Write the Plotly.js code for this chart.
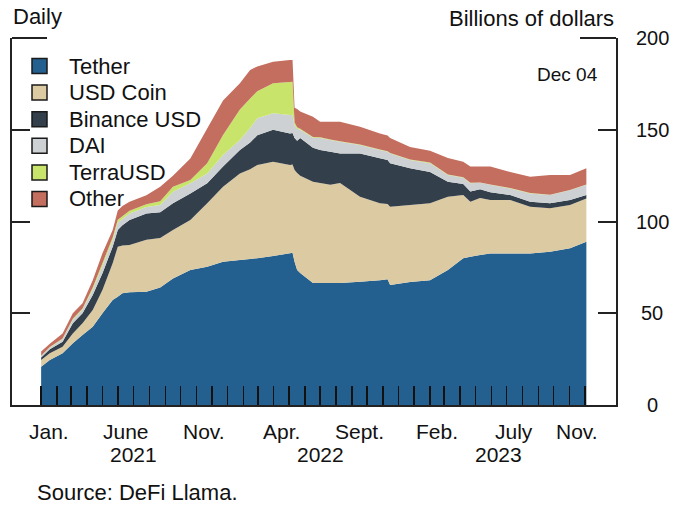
<!DOCTYPE html>
<html><head><meta charset="utf-8">
<script src="https://cdn.plot.ly/plotly-3.0.1.min.js"></script>
<style>html,body{margin:0;padding:0;background:#fff}#chart{width:675px;height:506px}</style>
</head><body><div id="chart"></div>
<script>
const dates = ['2021-01-01','2021-01-18','2021-02-12','2021-03-04','2021-03-23','2021-04-12','2021-05-01','2021-05-21','2021-05-31','2021-06-09','2021-06-23','2021-07-26','2021-08-22','2021-09-16','2021-10-20','2021-11-22','2021-12-23','2022-01-25','2022-02-14','2022-02-28','2022-03-31','2022-05-03','2022-05-08','2022-05-12','2022-05-17','2022-05-23','2022-06-17','2022-07-01','2022-07-21','2022-08-09','2022-09-17','2022-10-26','2022-11-10','2022-11-15','2022-12-24','2023-02-01','2023-03-08','2023-04-07','2023-04-21','2023-05-10','2023-05-30','2023-07-08','2023-08-16','2023-09-24','2023-11-02','2023-12-04'];
const tether     = [20.9,24.5,28.2,33.6,38.1,42.7,50,57.2,59,60.9,61.5,61.7,64,69,73.6,75.4,78,79,79.5,80,81.2,82.7,83,78,73.6,72,66.5,66.5,66.5,66.5,67.2,68,68.5,65.4,67,68,73.6,80,80.8,81.7,82.6,82.6,82.6,83.5,85.4,89];
const usdCoin    = [3.6,3.7,3.6,5.4,6.4,9.1,12.7,20,27.3,26,25.7,28.3,27,26.4,27.2,34.6,41,47.2,49,50.8,51.4,48.1,48,50,52.8,53,55.2,54.5,53.5,54.5,46.3,42,41,42.6,42,42,39.9,34.4,30,31.1,29.1,29.1,25.4,23.7,23.6,23.6];
const binanceUsd = [1.4,2.2,2.7,5.5,5.5,8.2,9.1,9.1,9.1,11,13.6,14.4,14,14.6,14.5,10.8,11,12.8,14.5,16.2,17.4,17.2,17.2,17.5,17.6,20.5,18.5,18,18,16,23.5,24.5,24,23.8,20,17,8.2,6,5.5,4.8,4.3,2.7,2.8,2.8,2.7,1.8];
const dai        = [0.8,1.0,1.5,2,2,3,4,3.5,4,3.5,3.5,3.5,4,6.2,5.5,5.4,6.2,5.4,8,9.2,9,10,10,7,6.5,4.5,5.5,6.5,6.4,6.5,4.7,4.5,4.5,5.2,4.5,4.8,3.6,3.5,4.6,3.5,4,3.6,4.5,4.4,5.3,5.6];
const terraUsd   = [0.2,0.2,0.3,0.5,0.6,1,1.5,1.5,1.5,1.5,1.5,1.5,2,2.8,1.8,5.5,11,16.6,16,14.8,16.3,18,18,1.5,0.8,0.5,0.4,0.4,0.3,0.3,0.3,0.3,0.3,0.3,0.3,0.3,0.3,0.2,0.2,0.2,0.2,0.2,0.2,0.2,0.2,0.2];
const other      = [2.3,1.8,2.7,3,2.8,4,5.4,4.1,5.1,5.5,5,4.9,8,6,11.8,19,18.8,14.3,15.6,13.5,11.7,12,11.8,8,10,9.5,11,8.5,9.7,10.6,9.7,8.7,8.5,8.2,6.8,6.5,9,8.5,8.9,8.7,9.8,8.8,8.9,10.7,8.1,8.8];

const seriesNames = ['Tether','USD Coin','Binance USD','DAI','TerraUSD','Other'];
const seriesColors = ['#23608f','#dccaa3','#333f4a','#cdd1d3','#c8e46b','#c46e5f'];
const monthLabels = ['Jan.','June','Nov.','Apr.','Sept.','Feb.','July','Nov.'];
const monthLabelDates = ['2021-01-16','2021-06-17','2021-11-16','2022-04-16','2022-09-16','2023-02-15','2023-07-16','2023-11-16'];
const yearLabels = ['2021','2022','2023'];
const yearLabelDates = ['2021-06-30','2022-07-01','2023-06-15'];
const yTickVals = [0,50,100,150,200];
const yTickText = ['0','50','100','150','200'];

const FONT = 'Liberation Sans, Arial, Helvetica, sans-serif';
const INK = '#111';
const PW = 604, PH = 367; // plot area size in px

const values = [tether, usdCoin, binanceUsd, dai, terraUsd, other];
const traces = values.map((v, i) => ({
  type: 'scatter', mode: 'none', x: dates, y: v, stackgroup: 'one',
  fillcolor: seriesColors[i], line: {width: 0}, name: seriesNames[i],
  showlegend: false, hoverinfo: 'skip'
}));

// monthly tick positions Jan 2021 .. Dec 2023
const monthTicks = [];
for (let y = 2021; y <= 2023; y++) {
  for (let m = 1; m <= 12; m++) monthTicks.push(y + '-' + String(m).padStart(2, '0') + '-01');
}

const annotations = [];
const shapes = [
  {type: 'line', xref: 'paper', yref: 'paper', x0: 0, x1: 35/PW, y0: 1, y1: 1, line: {color: '#222', width: 2}},
  {type: 'line', xref: 'paper', yref: 'paper', x0: 1 - 36/PW, x1: 1, y0: 1, y1: 1, line: {color: '#222', width: 2}}
];

// legend (keys + labels)
seriesNames.forEach((n, i) => {
  const cy = 1 - (28 + i * 26.6) / PH;
  const half = 7.5;
  shapes.push({type: 'rect', xref: 'paper', yref: 'paper',
    x0: (32 - 12) / PW, x1: (47 - 12) / PW, y0: cy - half / PH, y1: cy + half / PH,
    fillcolor: seriesColors[i], line: {color: '#1a1a1a', width: 1.5}});
  annotations.push({text: n, x: (67 - 12) / PW, xref: 'paper', xanchor: 'left', y: cy, yref: 'paper',
    yanchor: 'middle', showarrow: false, font: {family: FONT, size: 22, color: INK}});
});

monthLabels.forEach((t, i) => annotations.push({
  text: t, x: monthLabelDates[i], xref: 'x', y: 0, yref: 'paper', yanchor: 'top', xanchor: 'center',
  yshift: -13, showarrow: false, font: {family: FONT, size: 21, color: INK}
}));
yearLabels.forEach((t, i) => annotations.push({
  text: t, x: yearLabelDates[i], xref: 'x', y: 0, yref: 'paper', yanchor: 'top', xanchor: 'center',
  yshift: -36, showarrow: false, font: {family: FONT, size: 21, color: INK}
}));
yTickVals.forEach((v, i) => annotations.push({
  text: yTickText[i], x: 1, xref: 'paper', xshift: 36, xanchor: 'center', y: v, yref: 'y', yanchor: 'middle',
  showarrow: false, font: {family: FONT, size: 20, color: INK}
}));
annotations.push({text: 'Daily', x: 0, xref: 'paper', xanchor: 'left', xshift: -1, y: 1, yref: 'paper',
  yanchor: 'middle', yshift: 22, showarrow: false, font: {family: FONT, size: 22, color: INK}});
annotations.push({text: 'Billions of dollars', x: 1, xref: 'paper', xanchor: 'right', xshift: 0, y: 1, yref: 'paper',
  yanchor: 'middle', yshift: 20, showarrow: false, font: {family: FONT, size: 22, color: INK}});
annotations.push({text: 'Dec 04', x: 1, xref: 'paper', xanchor: 'right', xshift: -16, y: 1, yref: 'paper',
  yanchor: 'middle', yshift: -36, showarrow: false, font: {family: FONT, size: 19, color: INK}});
annotations.push({text: 'Source: DeFi Llama.', x: 0, xref: 'paper', xanchor: 'left', xshift: 23, y: 0, yref: 'paper',
  yanchor: 'middle', yshift: -87, showarrow: false, font: {family: FONT, size: 22, color: INK}});

const layout = {
  width: 675, height: 506,
  margin: {l: 12, r: 59, t: 38, b: 101},
  paper_bgcolor: '#fff', plot_bgcolor: '#fff',
  showlegend: false,
  xaxis: {type: 'date', range: ['2020-11-05', '2024-01-31'], showgrid: false, zeroline: false,
    showline: true, linecolor: '#222', linewidth: 2,
    tickmode: 'array', tickvals: monthTicks, ticks: 'inside', ticklen: 19, tickwidth: 1.6, tickcolor: '#111',
    showticklabels: false, fixedrange: true},
  yaxis: {range: [0, 200], side: 'right', showgrid: false, zeroline: false,
    showline: true, linecolor: '#222', linewidth: 2, mirror: 'ticks',
    tickmode: 'array', tickvals: yTickVals, ticks: 'inside', ticklen: 18, tickwidth: 2, tickcolor: '#222',
    showticklabels: false, fixedrange: true},
  shapes: shapes,
  annotations: annotations
};

Plotly.newPlot('chart', traces, layout, {staticPlot: true, displayModeBar: false});
</script>
</body></html>
